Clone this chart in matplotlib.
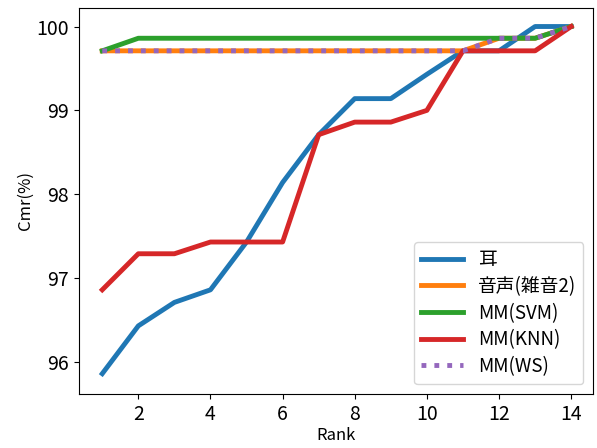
import matplotlib
matplotlib.use("Agg")
import matplotlib.pyplot as plt

plt.rcParams['font.family'] = ['Noto Sans CJK JP', 'DejaVu Sans']

# Cumulative match rate (%) per rank
ranks = list(range(1, 15))
ear = [95.86, 96.43, 96.71, 96.86, 97.43, 98.14, 98.71, 99.14, 99.14, 99.43, 99.71, 99.71, 100.0, 100.0]
voice = [99.71, 99.71, 99.71, 99.71, 99.71, 99.71, 99.71, 99.71, 99.71, 99.71, 99.71, 99.86, 99.86, 100.0]
mm_svm = [99.71, 99.86, 99.86, 99.86, 99.86, 99.86, 99.86, 99.86, 99.86, 99.86, 99.86, 99.86, 99.86, 100.0]
mm_knn = [96.86, 97.29, 97.29, 97.43, 97.43, 97.43, 98.71, 98.86, 98.86, 99.0, 99.71, 99.71, 99.71, 100.0]
mm_ws = [99.71, 99.71, 99.71, 99.71, 99.71, 99.71, 99.71, 99.71, 99.71, 99.71, 99.71, 99.86, 99.86, 100.0]

fig = plt.figure(figsize=(5.97, 4.48), dpi=100)
ax = fig.add_axes([0.132, 0.121, 0.861, 0.861])

lw = 3.5
ax.plot(ranks, ear, color='#1f77b4', linewidth=lw, label='耳')
ax.plot(ranks, voice, color='#ff7f0e', linewidth=lw, label='音声(雑音2)')
ax.plot(ranks, mm_svm, color='#2ca02c', linewidth=lw, label='MM(SVM)')
ax.plot(ranks, mm_knn, color='#d62728', linewidth=lw, label='MM(KNN)')
ax.plot(ranks, mm_ws, color='#9467bd', linewidth=lw, linestyle=':', label='MM(WS)')

ax.set_xlim(0.35, 14.6)
ax.set_ylim(95.62, 100.22)
ax.set_xticks([2, 4, 6, 8, 10, 12, 14])
ax.set_yticks([96, 97, 98, 99, 100])
ax.tick_params(labelsize=14)
ax.set_xlabel('Rank', fontsize=12, labelpad=2)
ax.set_ylabel('Cmr(%)', fontsize=12, labelpad=2)

ax.legend(loc='lower right', fontsize=13.5, handlelength=2.2, labelspacing=0.3)

fig.savefig('out.png', dpi=100)
